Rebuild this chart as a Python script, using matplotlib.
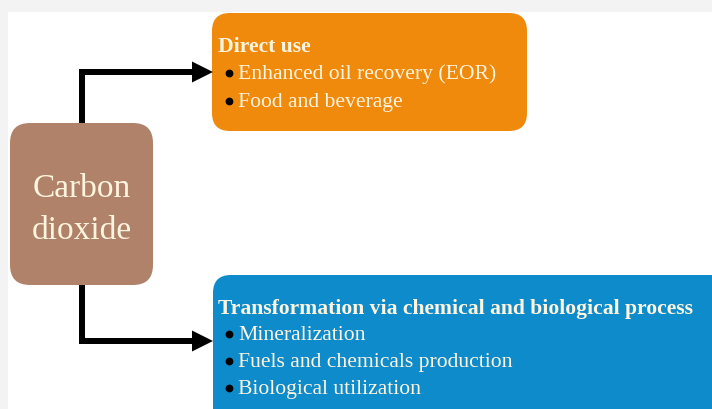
import matplotlib
matplotlib.use("Agg")
import matplotlib.pyplot as plt
from matplotlib.patches import FancyBboxPatch, Rectangle, Polygon

# ---- content ----
source_label = ["Carbon", "dioxide"]
direct_title = "Direct use"
direct_items = ["Enhanced oil recovery (EOR)", "Food and beverage"]
trans_title = "Transformation via chemical and biological process"
trans_items = ["Mineralization", "Fuels and chemicals production", "Biological utilization"]

# ---- styles ----
ORANGE = "#EF8A0C"
BROWN = "#B0826A"
BLUE = "#0E8BCB"
CREAM = "#FFF4DE"
FONT = "Liberation Serif"

W, H = 712, 409
fig = plt.figure(figsize=(W / 100, H / 100), dpi=100)
ax = fig.add_axes([0, 0, 1, 1])
ax.set_xlim(0, W)
ax.set_ylim(H, 0)
ax.axis("off")

# background: light gray frame at top/left, white inner area
ax.add_patch(Rectangle((0, 0), W, H, facecolor="#F3F3F3", edgecolor="none", zorder=0))
ax.add_patch(Rectangle((8, 12), W - 8, H - 12, facecolor="white", edgecolor="none", zorder=0))

def rbox(x0, y0, x1, y1, color, r=18):
    ax.add_patch(FancyBboxPatch((x0, y0), x1 - x0, y1 - y0,
                                boxstyle=f"round,pad=0,rounding_size={r}",
                                facecolor=color, edgecolor="none", zorder=2))

# boxes
rbox(10, 123, 153, 285, BROWN, r=20)
rbox(212, 13, 527, 131, ORANGE, r=18)
rbox(213, 275, 730, 440, BLUE, r=18)

# connectors
lw = 6
ax.plot([82, 82, 196], [124, 72, 72], color="black", lw=lw * 0.72, solid_joinstyle="miter",
        solid_capstyle="butt", zorder=1)
ax.plot([82, 82, 196], [284, 341, 341], color="black", lw=lw * 0.72, solid_joinstyle="miter",
        solid_capstyle="butt", zorder=1)
for yc in (72, 341):
    ax.add_patch(Polygon([(192, yc - 10.5), (213, yc), (192, yc + 10.5)], closed=True,
                         facecolor="black", edgecolor="none", zorder=3))

# source text
for i, s in enumerate(source_label):
    ax.text(82, 189 + i * 42, s, ha="center", va="center", color=CREAM,
            fontsize=24, family=FONT, zorder=4)

def block(x, y_title, title, items, dy):
    ax.text(x, y_title, title, ha="left", va="center", color=CREAM, fontsize=15.6,
            fontweight="bold", family=FONT, zorder=4)
    for i, it in enumerate(items):
        y = y_title + (i + 1) * dy
        ax.plot([229], [y - 1.5], marker="o", color="black", markersize=4.6, zorder=4)
        ax.text(238, y, it, ha="left", va="center", color=CREAM, fontsize=15.6,
                family=FONT, zorder=4)

block(218, 47, direct_title, direct_items, 27.5)
block(218, 309, trans_title, trans_items, 26.7)

fig.savefig("out.png", dpi=100)
